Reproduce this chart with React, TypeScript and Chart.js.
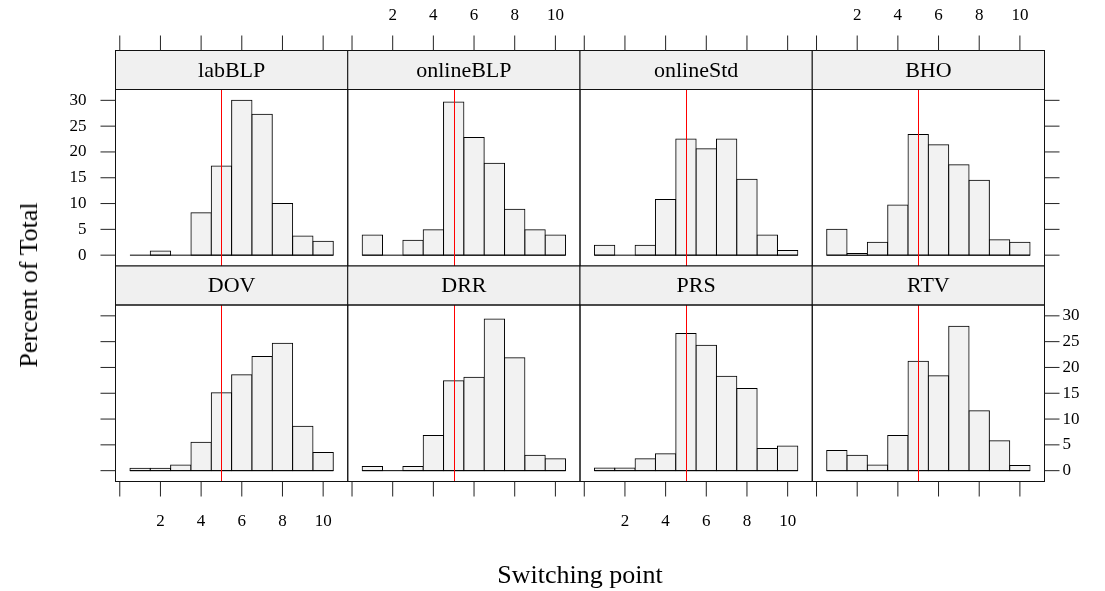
import React, { useEffect, useRef } from "react";
import { Chart, registerables } from "chart.js";

Chart.register(...registerables);

// Switching point bins (1..10) and percent of total per treatment
const switchPoints = [1, 2, 3, 4, 5, 6, 7, 8, 9, 10];
const labBLP = [0, 0.8, 0, 8.2, 17.3, 30.0, 27.3, 10.0, 3.7, 2.7];
const onlineBLP = [3.9, 0, 2.9, 4.9, 29.7, 22.8, 17.8, 8.9, 4.9, 3.9];
const onlineStd = [1.9, 0, 1.9, 10.8, 22.5, 20.6, 22.5, 14.7, 3.9, 0.9];
const BHO = [5.0, 0.3, 2.5, 9.7, 23.4, 21.4, 17.5, 14.5, 3.0, 2.5];
const DOV = [0.45, 0.45, 1.1, 5.5, 15.1, 18.6, 22.1, 24.7, 8.6, 3.5];
const DRR = [0.8, 0, 0.8, 6.8, 17.4, 18.1, 29.4, 21.9, 3.0, 2.3];
const PRS = [0.5, 0.5, 2.3, 3.3, 26.6, 24.3, 18.3, 15.9, 4.3, 4.8];
const RTV = [3.9, 3.0, 1.1, 6.8, 21.2, 18.4, 28.0, 11.6, 5.8, 1.0];

const panelNames = ["labBLP", "onlineBLP", "onlineStd", "BHO", "DOV", "DRR", "PRS", "RTV"];
const panelValues = [labBLP, onlineBLP, onlineStd, BHO, DOV, DRR, PRS, RTV];

const xTicks = [0, 2, 4, 6, 8, 10];
const yTicks = [0, 5, 10, 15, 20, 25, 30];
const referencePoint = 5;

const X_MIN = -0.21;
const X_MAX = 11.21;
const Y_MIN = -2.1;
const Y_MAX = 32.1;

// Page layout
const W = 1105;
const H = 591;
const COL_EDGES = [115.5, 347.75, 580, 812.25, 1044.5];
const STRIP_H = 39;
const ROWS = [
  { stripTop: 50.5, plotTop: 89.5, plotBottom: 266 },
  { stripTop: 266, plotTop: 305, plotBottom: 481.5 },
];
const TICK_LEN = 15;
const FONT = '"Liberation Serif", "DejaVu Serif", serif';
const TICK_FONT = `17px ${FONT}`;
const STRIP_FONT = `22px ${FONT}`;

const latticePanel = {
  id: "latticePanel",
  afterDatasetsDraw(chart: any) {
    const { ctx, chartArea: a, scales } = chart;
    const px = Math.round(scales.x.getPixelForValue(referencePoint)) + 0.5;
    ctx.save();
    ctx.strokeStyle = "#ff0000";
    ctx.lineWidth = 1;
    ctx.beginPath();
    ctx.moveTo(px, a.top);
    ctx.lineTo(px, a.bottom);
    ctx.stroke();
    ctx.restore();
  },
  afterDraw(chart: any, _args: any, opts: any) {
    const { ctx, chartArea: a, scales } = chart;
    const { name, row, col } = opts;
    const w = a.right - a.left;
    ctx.save();
    ctx.lineWidth = 1;

    // strip
    ctx.fillStyle = "#f0f0f0";
    ctx.fillRect(a.left, a.top - STRIP_H, w, STRIP_H);
    ctx.strokeStyle = "#111";
    ctx.strokeRect(a.left, a.top - STRIP_H, w, STRIP_H);
    ctx.strokeRect(a.left, a.top, w, a.bottom - a.top);
    ctx.fillStyle = "#000";
    ctx.font = STRIP_FONT;
    ctx.textAlign = "center";
    ctx.textBaseline = "middle";
    ctx.fillText(name, a.left + w / 2, a.top - STRIP_H / 2 + 1);

    ctx.font = TICK_FONT;
    ctx.strokeStyle = "#222";
    // x axis ticks (top row above strips, bottom row below panels)
    xTicks.forEach((v) => {
      const x = scales.x.getPixelForValue(v);
      ctx.beginPath();
      if (row === 0) {
        const y0 = a.top - STRIP_H;
        ctx.moveTo(x, y0 - TICK_LEN);
        ctx.lineTo(x, y0);
      } else {
        ctx.moveTo(x, a.bottom);
        ctx.lineTo(x, a.bottom + TICK_LEN);
      }
      ctx.stroke();
      if (v === 0) return;
      if (row === 0 && col % 2 === 1) {
        ctx.textAlign = "center";
        ctx.textBaseline = "middle";
        ctx.fillText(String(v), x, 16);
      } else if (row === 1 && col % 2 === 0) {
        ctx.textAlign = "center";
        ctx.textBaseline = "middle";
        ctx.fillText(String(v), x, 522);
      }
    });

    // y axis ticks (left of first column, right of last column)
    yTicks.forEach((v) => {
      const y = scales.y.getPixelForValue(v);
      if (col === 0) {
        ctx.beginPath();
        ctx.moveTo(a.left - TICK_LEN, y);
        ctx.lineTo(a.left, y);
        ctx.stroke();
        if (row === 0) {
          ctx.textAlign = "right";
          ctx.textBaseline = "middle";
          ctx.fillText(String(v), a.left - 29, y);
        }
      } else if (col === 3) {
        ctx.beginPath();
        ctx.moveTo(a.right, y);
        ctx.lineTo(a.right + TICK_LEN, y);
        ctx.stroke();
        if (row === 1) {
          ctx.textAlign = "left";
          ctx.textBaseline = "middle";
          ctx.fillText(String(v), a.right + 18, y);
        }
      }
    });
    ctx.restore();
  },
};

function Panel({ index }: { index: number }) {
  const ref = useRef<HTMLCanvasElement | null>(null);
  useEffect(() => {
    if (!ref.current) return;
    const row = Math.floor(index / 4);
    const col = index % 4;
    const r = ROWS[row];
    const left = COL_EDGES[col];
    const right = COL_EDGES[col + 1];
    const values = panelValues[index];
    const firstEdge = switchPoints[0] - 0.5;
    const lastEdge = switchPoints[switchPoints.length - 1] + 0.5;
    const chart = new Chart(ref.current, {
      type: "bar",
      data: {
        datasets: [
          {
            type: "bar",
            data: switchPoints.map((x, i) => ({ x, y: values[i] })),
            backgroundColor: "#f2f2f2",
            borderColor: "#000",
            borderWidth: 1,
            borderSkipped: false,
            barPercentage: 1,
            categoryPercentage: 1,
            inflateAmount: 0.5,
            order: 2,
          } as any,
          {
            type: "line",
            data: [
              { x: firstEdge, y: 0 },
              { x: lastEdge, y: 0 },
            ],
            borderColor: "#000",
            borderWidth: 1,
            pointRadius: 0,
            order: 1,
          } as any,
        ],
      },
      options: {
        responsive: false,
        maintainAspectRatio: false,
        animation: false,
        devicePixelRatio: 1,
        events: [],
        layout: {
          padding: {
            left,
            right: W - right,
            top: r.plotTop,
            bottom: H - r.plotBottom,
          },
        },
        scales: {
          x: { type: "linear", min: X_MIN, max: X_MAX, display: false, offset: false },
          y: { type: "linear", min: Y_MIN, max: Y_MAX, display: false },
        },
        plugins: {
          legend: { display: false },
          tooltip: { enabled: false },
          latticePanel: { name: panelNames[index], row, col },
        } as any,
      },
      plugins: [latticePanel],
    });
    return () => chart.destroy();
  }, [index]);
  return (
    <canvas
      ref={ref}
      width={W}
      height={H}
      style={{ position: "absolute", left: 0, top: 0, width: W, height: H }}
    />
  );
}

export default function App() {
  return (
    <div
      style={{
        position: "absolute",
        left: 0,
        top: 0,
        width: W,
        height: H,
        background: "#fff",
        overflow: "hidden",
        fontFamily: FONT,
      }}
    >
      {panelNames.map((_, i) => (
        <Panel key={i} index={i} />
      ))}
      <div
        style={{
          position: "absolute",
          left: 0,
          width: 1160,
          top: 560,
          textAlign: "center",
          fontSize: 26,
          lineHeight: "30px",
          color: "#000",
        }}
      >
        Switching point
      </div>
      <div
        style={{
          position: "absolute",
          left: 29,
          top: 285,
          transform: "translate(-50%, -50%) rotate(-90deg)",
          whiteSpace: "nowrap",
          fontSize: 26,
          lineHeight: "30px",
          color: "#000",
        }}
      >
        Percent of Total
      </div>
    </div>
  );
}
